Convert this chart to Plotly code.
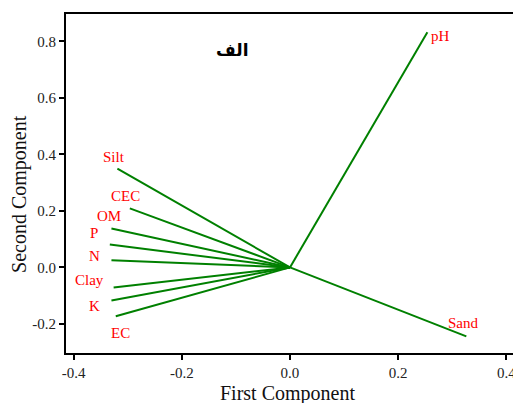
import plotly.graph_objects as go

# Loadings
variables = ["pH", "Sand", "Silt", "CEC", "OM", "P", "N", "Clay", "K", "EC"]
pc1 = [0.254, 0.326, -0.319, -0.296, -0.330, -0.333, -0.330, -0.326, -0.330, -0.322]
pc2 = [0.832, -0.244, 0.350, 0.209, 0.138, 0.081, 0.025, -0.071, -0.117, -0.173]

x_ticks = [-0.4, -0.2, 0.0, 0.2, 0.4]
y_ticks = [-0.2, 0.0, 0.2, 0.4, 0.6, 0.8]

# label pixel offsets (style)
label_shift = {
    "pH": (13, -4), "Sand": (-3, 13), "Silt": (-3, 12), "CEC": (-4, 12),
    "OM": (-2, 12), "P": (-16, 12), "N": (-17, 4), "Clay": (-24, 7),
    "K": (-17, -6), "EC": (5, -17),
}

SERIF = "Liberation Serif, Times New Roman, serif"

fig = go.Figure()
for name, x, y in zip(variables, pc1, pc2):
    fig.add_trace(go.Scatter(x=[0, x], y=[0, y], mode="lines",
                             line=dict(color="#008000", width=2),
                             hoverinfo="skip", showlegend=False))

annotations = []
for name, x, y in zip(variables, pc1, pc2):
    dx, dy = label_shift[name]
    annotations.append(dict(x=x, y=y, text=name, showarrow=False,
                            xanchor="center", yanchor="middle",
                            xshift=dx, yshift=dy,
                            font=dict(family=SERIF, size=15, color="#FF0000")))

annotations.append(dict(x=-0.107, y=0.77, text="<b>الف</b>", showarrow=False,
                        xanchor="center", yanchor="middle",
                        font=dict(family="DejaVu Sans", size=17, color="#000000")))
annotations.append(dict(xref="paper", yref="paper", x=0.487, y=-0.118,
                        text="First Component", showarrow=False,
                        xanchor="center", yanchor="middle",
                        font=dict(family=SERIF, size=20, color="#111111")))
annotations.append(dict(xref="paper", yref="paper", x=-0.103, y=0.47,
                        text="Second Component", showarrow=False, textangle=-90,
                        xanchor="center", yanchor="middle",
                        font=dict(family=SERIF, size=20, color="#111111")))

fig.update_layout(
    width=520, height=403,
    margin=dict(l=66, r=0, t=14, b=50),
    paper_bgcolor="white", plot_bgcolor="white",
    annotations=annotations,
    hovermode=False,
    xaxis=dict(range=[-0.414, 0.4252], tickvals=x_ticks,
               ticktext=[f"{v:.1f}" for v in x_ticks],
               showgrid=False, zeroline=False, showline=True, mirror=True,
               linecolor="black", linewidth=2, ticks="outside", ticklen=5,
               tickwidth=2, tickcolor="black", ticklabeloverflow="allow",
               tickfont=dict(family=SERIF, size=15, color="#222222")),
    yaxis=dict(range=[-0.303, 0.897], tickvals=y_ticks,
               ticktext=[f"{v:.1f}" for v in y_ticks],
               showgrid=False, zeroline=False, showline=True,
               linecolor="black", linewidth=2, ticks="outside", ticklen=5,
               tickwidth=2, tickcolor="black",
               tickfont=dict(family=SERIF, size=15, color="#222222")),
)

fig.write_html(
    "out.html",
    config={"displayModeBar": False, "staticPlot": True},
    post_script="document.body.style.margin='0';"
                "document.documentElement.style.overflow='hidden';"
                "document.body.style.overflow='hidden';",
)
